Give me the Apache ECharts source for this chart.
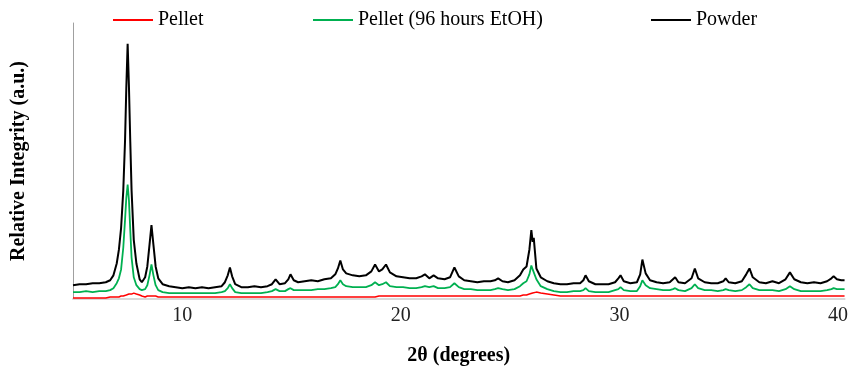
<!DOCTYPE html>
<html><head><meta charset="utf-8">
<script src="https://cdn.jsdelivr.net/npm/echarts@6.0.0/dist/echarts.min.js"></script>
<style>html,body{margin:0;padding:0;background:#fff}#c{width:851px;height:371px}</style>
</head><body><div id="c"></div>
<script>
const twoTheta = [
  5.0, 5.3, 5.6, 5.9, 6.2, 6.5, 6.7, 6.85, 7.0, 7.1,
  7.2, 7.3, 7.38, 7.44, 7.5, 7.56, 7.62, 7.68, 7.78, 7.9,
  8.05, 8.15, 8.3, 8.4, 8.5, 8.59, 8.68, 8.78, 8.9, 9.1,
  9.4, 9.7, 10.0, 10.3, 10.6, 10.9, 11.2, 11.5, 11.8, 11.95,
  12.08, 12.18, 12.28, 12.42, 12.7, 13.0, 13.3, 13.6, 13.9, 14.1,
  14.27, 14.45, 14.7, 14.85, 14.95, 15.1, 15.3, 15.6, 15.9, 16.2,
  16.5, 16.8, 17.0, 17.12, 17.23, 17.35, 17.5, 17.8, 18.1, 18.4,
  18.65, 18.82, 19.0, 19.15, 19.32, 19.5, 19.8, 20.1, 20.4, 20.7,
  20.95, 21.1, 21.3, 21.5, 21.7, 22.0, 22.25, 22.45, 22.65, 22.9,
  23.2, 23.5, 23.8, 24.1, 24.3, 24.45, 24.65, 24.9, 25.2, 25.45,
  25.6, 25.75, 25.88, 25.97, 26.03, 26.08, 26.2, 26.4, 26.7, 27.0,
  27.3, 27.6, 27.9, 28.2, 28.35, 28.45, 28.6, 28.9, 29.2, 29.5,
  29.8, 29.95, 30.05, 30.2, 30.5, 30.8, 30.95, 31.05, 31.2, 31.4,
  31.7, 32.0, 32.3, 32.45, 32.55, 32.7, 33.0, 33.3, 33.45, 33.6,
  33.9, 34.2, 34.5, 34.75, 34.86, 35.0, 35.3, 35.6, 35.8, 35.95,
  36.1, 36.4, 36.7, 37.0, 37.3, 37.6, 37.8, 38.0, 38.3, 38.6,
  38.9, 39.2, 39.5, 39.7, 39.8, 39.95, 40.15, 40.3
];
const powder = [
  14,15,15,16,16,17,19,24,36,50,
  72,110,160,215,259,215,160,110,60,36,
  20,17,22,33,55,75,55,33,21,15,
  13,12,11,12,11,12,11,12,13,17,
  24,32,23,15,12,12,13,12,13,15,
  20,15,16,20,25,19,17,18,19,18,
  20,21,25,31,39,30,26,24,23,24,
  28,35,28,30,35,27,23,22,21,21,
  23,25,21,24,21,20,22,32,23,19,
  18,17,18,18,19,21,18,17,19,24,
  30,33,50,70,58,62,31,22,18,16,
  15,15,16,16,19,24,18,15,15,15,
  17,21,24,18,16,17,25,40,26,19,
  17,16,17,20,22,17,16,21,31,21,
  17,16,16,18,21,17,16,18,25,31,
  22,17,16,18,16,20,27,20,17,16,
  17,16,18,21,23,20,19,19
];
const pellet96 = [
  7,7,8,7,8,8,9,11,16,21,
  30,52,80,103,116,100,70,42,22,14,
  10,9,10,14,24,35,24,14,9,7,
  6,6,6,6,6,6,6,6,7,8,
  11,15,11,7,6,6,6,6,7,8,
  10,8,8,10,11,9,9,9,9,10,
  10,11,12,15,19,15,13,12,12,12,
  14,17,14,15,17,13,12,12,11,11,
  12,13,12,13,11,11,12,16,12,10,
  10,9,9,9,10,11,10,9,10,13,
  16,18,25,34,30,28,20,13,10,8,
  7,7,8,8,9,11,8,7,7,7,
  9,10,12,9,8,8,13,19,14,11,
  10,9,9,10,11,9,8,11,15,11,
  9,9,8,9,10,9,8,9,12,15,
  11,9,9,9,8,10,13,10,8,8,
  8,8,9,10,11,10,10,10
];
const pellet = [
  1,1,1,1,1,1,2,2,2,2,
  3,3,3,4,4,5,5,5,6,5,
  4,3,2,3,3,3,3,3,2,2,
  2,2,2,2,2,2,2,2,2,2,
  2,2,2,2,2,2,2,2,2,2,
  2,2,2,2,2,2,2,2,2,2,
  2,2,2,2,2,2,2,2,2,2,
  2,2,3,3,3,3,3,3,3,3,
  3,3,3,3,3,3,3,3,3,3,
  3,3,3,3,3,3,3,3,3,3,
  4,4,5,6,6,7,7,6,5,4,
  3,3,3,3,3,3,3,3,3,3,
  3,3,3,3,3,3,3,3,3,3,
  3,3,3,3,3,3,3,3,3,3,
  3,3,3,3,3,3,3,3,3,3,
  3,3,3,3,3,3,3,3,3,3,
  3,3,3,3,3,3,3,3
];
const xTickLabels = [10, 20, 30, 40];
const seriesNames = ['Pellet', 'Pellet (96 hours EtOH)', 'Powder'];
const seriesColors = ['#ff0000', '#00b050', '#000000'];

const pair = arr => twoTheta.map((x, i) => [x, arr[i]]);
const serif = '"Liberation Serif", "Times New Roman", serif';
const chart = echarts.init(document.getElementById('c'), null, {renderer: 'canvas'});
const legendBase = {
  top: 10, padding: 0, icon: 'rect', itemWidth: 40, itemHeight: 2, itemGap: 5,
  textStyle: {fontFamily: serif, fontSize: 20, color: '#000', padding: [0, 0, 0, 0]}
};
chart.setOption({
  animation: false,
  backgroundColor: '#fff',
  legend: [
    Object.assign({left: 113, data: [seriesNames[0]]}, legendBase),
    Object.assign({left: 313, data: [seriesNames[1]]}, legendBase),
    Object.assign({left: 651, data: [seriesNames[2]]}, legendBase)
  ],
  grid: {left: 73, right: 0, top: 23, bottom: 68},
  xAxis: {
    type: 'value', min: 5, max: 40.3, interval: 5,
    name: '2θ (degrees)', nameLocation: 'middle', nameGap: 47,
    nameTextStyle: {fontFamily: serif, fontSize: 20, fontWeight: 'bold', color: '#000'},
    axisLine: {show: true, lineStyle: {color: '#d9d9d9', width: 2}},
    axisTick: {show: false},
    splitLine: {show: false},
    axisLabel: {
      fontFamily: serif, fontSize: 20, color: '#222', margin: 7,
      formatter: v => xTickLabels.includes(v) ? String(v) : ''
    }
  },
  yAxis: {
    type: 'value', min: 0, max: 280,
    name: 'Relative Integrity (a.u.)', nameLocation: 'middle', nameGap: 44,
    nameTextStyle: {fontFamily: serif, fontSize: 20, fontWeight: 'bold', color: '#000'},
    axisLine: {show: true, lineStyle: {color: '#a0a0a0', width: 1}},
    axisTick: {show: false},
    axisLabel: {show: false},
    splitLine: {show: false}
  },
  series: [
    {name: seriesNames[0], type: 'line', data: pair(pellet), symbol: 'none',
     lineStyle: {color: seriesColors[0], width: 1.5}, itemStyle: {color: seriesColors[0]}},
    {name: seriesNames[1], type: 'line', data: pair(pellet96), symbol: 'none',
     lineStyle: {color: seriesColors[1], width: 1.8}, itemStyle: {color: seriesColors[1]}},
    {name: seriesNames[2], type: 'line', data: pair(powder), symbol: 'none',
     lineStyle: {color: seriesColors[2], width: 2}, itemStyle: {color: seriesColors[2]}}
  ]
});
</script>
</body></html>
